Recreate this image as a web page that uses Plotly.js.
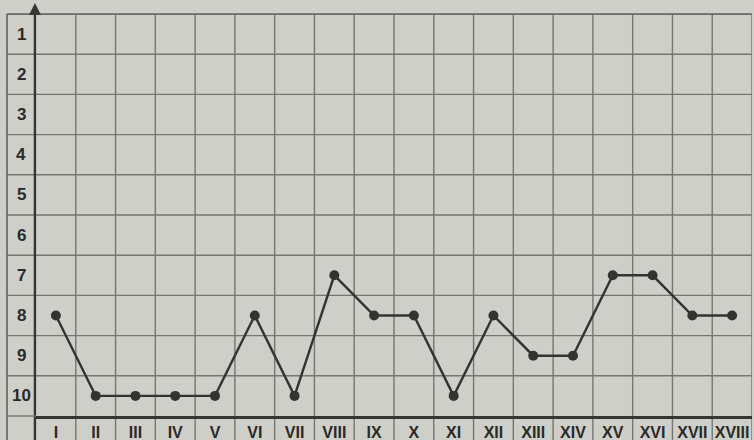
<!DOCTYPE html>
<html>
<head>
<meta charset="utf-8">
<script src="https://cdn.plot.ly/plotly-3.0.1.min.js"></script>
<style>html,body{margin:0;padding:0;background:#cfcfca;}#chart{width:754px;height:440px;}</style>
</head>
<body>
<div id="chart"></div>
<script>
var categories = ["I","II","III","IV","V","VI","VII","VIII","IX","X","XI","XII","XIII","XIV","XV","XVI","XVII","XVIII"];
var values = [8,10,10,10,10,8,10,7,8,8,10,8,9,9,7,7,8,8];
var yTickLabels = ["1","2","3","4","5","6","7","8","9","10"];

var W = 754, H = 440;
var M = {l: 36, r: 2, t: 14, b: 24};
var pw = W - M.l - M.r, ph = H - M.t - M.b;
var leftEdge = -(M.l - 7) / pw;   // outer left border of the label column
var bottomEdge = -M.b / ph;

var xIdx = categories.map(function (c, i) { return i; });
var gridColor = "#76766f";
var shapes = [];
// vertical cell boundaries (extend into label row)
for (var i = 1; i <= categories.length; i++) {
  shapes.push({type: "line", layer: "below", xref: "x", yref: "paper",
    x0: i - 0.5, x1: i - 0.5, y0: bottomEdge, y1: 1,
    line: {color: gridColor, width: 1.4}});
}
// horizontal cell boundaries (extend into label column)
for (var j = 0; j < yTickLabels.length; j++) {
  shapes.push({type: "line", layer: "below", xref: "paper", yref: "y",
    x0: leftEdge, x1: 1, y0: j + 0.5, y1: j + 0.5,
    line: {color: gridColor, width: 1.4}});
}
// outer border left + top
shapes.push({type: "line", xref: "paper", yref: "paper", x0: leftEdge, x1: leftEdge, y0: bottomEdge, y1: 1,
  line: {color: "#62625e", width: 1.6}});
shapes.push({type: "line", xref: "paper", yref: "paper", x0: leftEdge, x1: 1, y0: 1, y1: 1,
  line: {color: "#62625e", width: 1.6}});
// y axis continuing down through label row
shapes.push({type: "line", xref: "paper", yref: "paper", x0: -0.0015, x1: -0.0015, y0: bottomEdge, y1: 1,
  line: {color: "#353533", width: 2.4}});
// extension of bottom boundary into label column
shapes.push({type: "line", xref: "paper", yref: "paper", x0: leftEdge, x1: 0, y0: 0, y1: 0,
  line: {color: gridColor, width: 1.4}});

var annotations = yTickLabels.map(function (t, k) {
  return {xref: "paper", yref: "y", x: (21 - M.l) / pw, y: k + 1, text: "<b>" + t + "</b>", showarrow: false,
    xanchor: "center", yanchor: "middle",
    font: {family: "Liberation Sans, Arial, sans-serif", size: 17, color: "#2a2a28"}};
});
// arrow head on the y axis
annotations.push({xref: "paper", yref: "paper", x: -0.0015, y: 1 + 11 / ph, ax: 0, ay: 12,
  text: "", showarrow: true, arrowhead: 2, arrowsize: 1.2, arrowwidth: 2, arrowcolor: "#353533"});

var trace = {
  x: xIdx, y: values, type: "scatter", mode: "lines+markers",
  line: {color: "#333331", width: 2.4},
  marker: {color: "#333331", size: 10},
  cliponaxis: false, hoverinfo: "skip"
};

var layout = {
  width: W, height: H,
  margin: M,
  paper_bgcolor: "#cfcfca", plot_bgcolor: "#cfcfca",
  showlegend: false,
  xaxis: {
    range: [-0.5, categories.length - 0.5], tickmode: "array", tickvals: xIdx,
    ticktext: categories.map(function (c) { return "<b>" + c + "</b>"; }),
    showgrid: false, zeroline: false, ticks: "", ticklabelstandoff: 0,
    showline: true, linecolor: "#353533", linewidth: 2.6, fixedrange: true,
    tickfont: {family: "Liberation Sans, Arial, sans-serif", size: 16, color: "#2a2a28"}
  },
  yaxis: {
    range: [yTickLabels.length + 0.5, 0.5], showticklabels: false, showgrid: false, zeroline: false,
    ticks: "", showline: false, fixedrange: true
  },
  shapes: shapes,
  annotations: annotations
};

Plotly.newPlot("chart", [trace], layout, {staticPlot: true, displayModeBar: false});
</script>
</body>
</html>
